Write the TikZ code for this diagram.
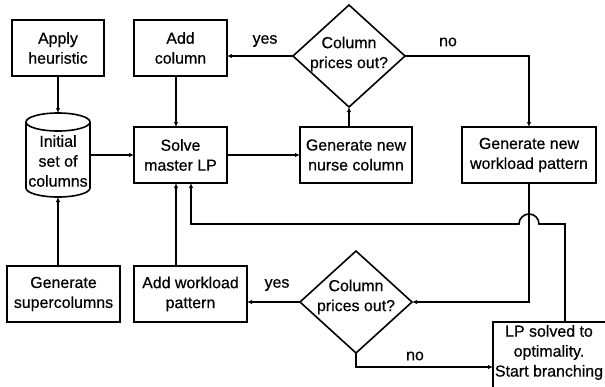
\documentclass[tikz,border=0pt]{standalone}
\usepackage{fontspec}
\setmainfont{Liberation Sans}[FakeBold=0.5]
\usetikzlibrary{shapes.geometric,arrows.meta}
\begin{document}
\begin{tikzpicture}[x=1bp,y=-1bp,
 box/.style={draw,line width=1.6bp,outer sep=0pt,align=center,inner sep=0pt,minimum height=56bp,font=\fontsize{16}{20}\selectfont},
 dia/.style={draw,diamond,line width=1.6bp,outer sep=0pt,inner sep=0pt,minimum width=112bp,minimum height=102bp},
 txt/.style={align=center,inner sep=0pt,font=\fontsize{16}{20}\selectfont},
 conn/.style={line width=1.6bp,-{Latex[length=5bp,width=4.5bp]}},
 lbl/.style={font=\fontsize{16}{19}\selectfont,inner sep=0pt}]
\useasboundingbox (0,0) rectangle (605,386);
\clip (0,0) rectangle (605,386);
\fill[white] (0,0) rectangle (605,386);

\node[box,minimum width=92bp] (heur) at (58,48) {Apply\\heuristic};
\node[box,minimum width=93bp] (addcol) at (180.5,48) {Add\\column};
\node[inner sep=0pt,outer sep=0pt,minimum width=64bp,minimum height=84bp] (cyl) at (58,155) {};
\draw[line width=1.6bp] (26,122) -- (26,188) arc[start angle=180,end angle=360,x radius=32bp,y radius=9bp] -- (90,122);
\draw[line width=1.6bp] (58,122) ellipse [x radius=32bp,y radius=9bp];
\node[txt] (cylt) at (58,161) {Initial\\set of\\columns};
\node[box,minimum width=93bp] (solve) at (180.5,155) {Solve\\master LP};
\node[box,minimum width=112bp] (nurse) at (356,155) {Generate new\\nurse column};
\node[dia] (d1) at (349,56) {};
\node[txt] (d1t) at (349,54) {Column\\prices out?};
\node[box,minimum width=134bp] (wl) at (529,155) {Generate new\\workload pattern};
\node[box,minimum width=113bp] (super) at (63.5,294) {Generate\\supercolumns};
\node[box,minimum width=113bp] (addwl) at (190.5,294) {Add workload\\pattern};
\node[dia] (d2) at (356,302) {};
\node[txt] (d2t) at (356,297) {Column\\prices out?};
\node[box,minimum width=122bp,minimum height=80bp,anchor=north west] (lp) at (493,322) {};
\node[txt] (lpt) at (549,352.5) {LP solved to\\optimality.\\Start branching};

\coordinate (jr) at (539,224);
\coordinate (jm) at (191,224);

\draw[conn] (heur.south -| cyl) -- (cyl.north);
\draw[conn] (cyl.east) -- (solve.west);
\draw[conn] ([xshift=-4.5bp]addcol.south) -- ([xshift=-4.5bp]solve.north);
\draw[conn] (solve.east) -- (nurse.west);
\draw[conn] (d1.south |- nurse.north) -- (d1.south);
\draw[conn] (d1.west) -- (d1.west -| addcol.east);
\draw[conn] (d1.east) -| (wl.north);
\draw[conn] (wl.south) |- (d2.east);
\draw[conn] (d2.west) -- (d2.west -| addwl.east);
\draw[conn] (d2.south) |- ([yshift=-5bp]lp.west);
\draw[conn] ([xshift=-14.5bp]addwl.north) -- ([xshift=-4.5bp]solve.south);
\draw[conn] (super.north -| cyl) -- (cyl.south);
\draw[conn] ([xshift=11bp]lp.north) |- (jr) arc[start angle=0,end angle=180,radius=10bp] -- (jm) -- (jm |- solve.south);

\node[lbl] (yes1) at (265,41) {yes};
\node[lbl] (no1) at (448,42) {no};
\node[lbl] (yes2) at (277,285) {yes};
\node[lbl] (no2) at (415,356) {no};
\end{tikzpicture}
\end{document}
